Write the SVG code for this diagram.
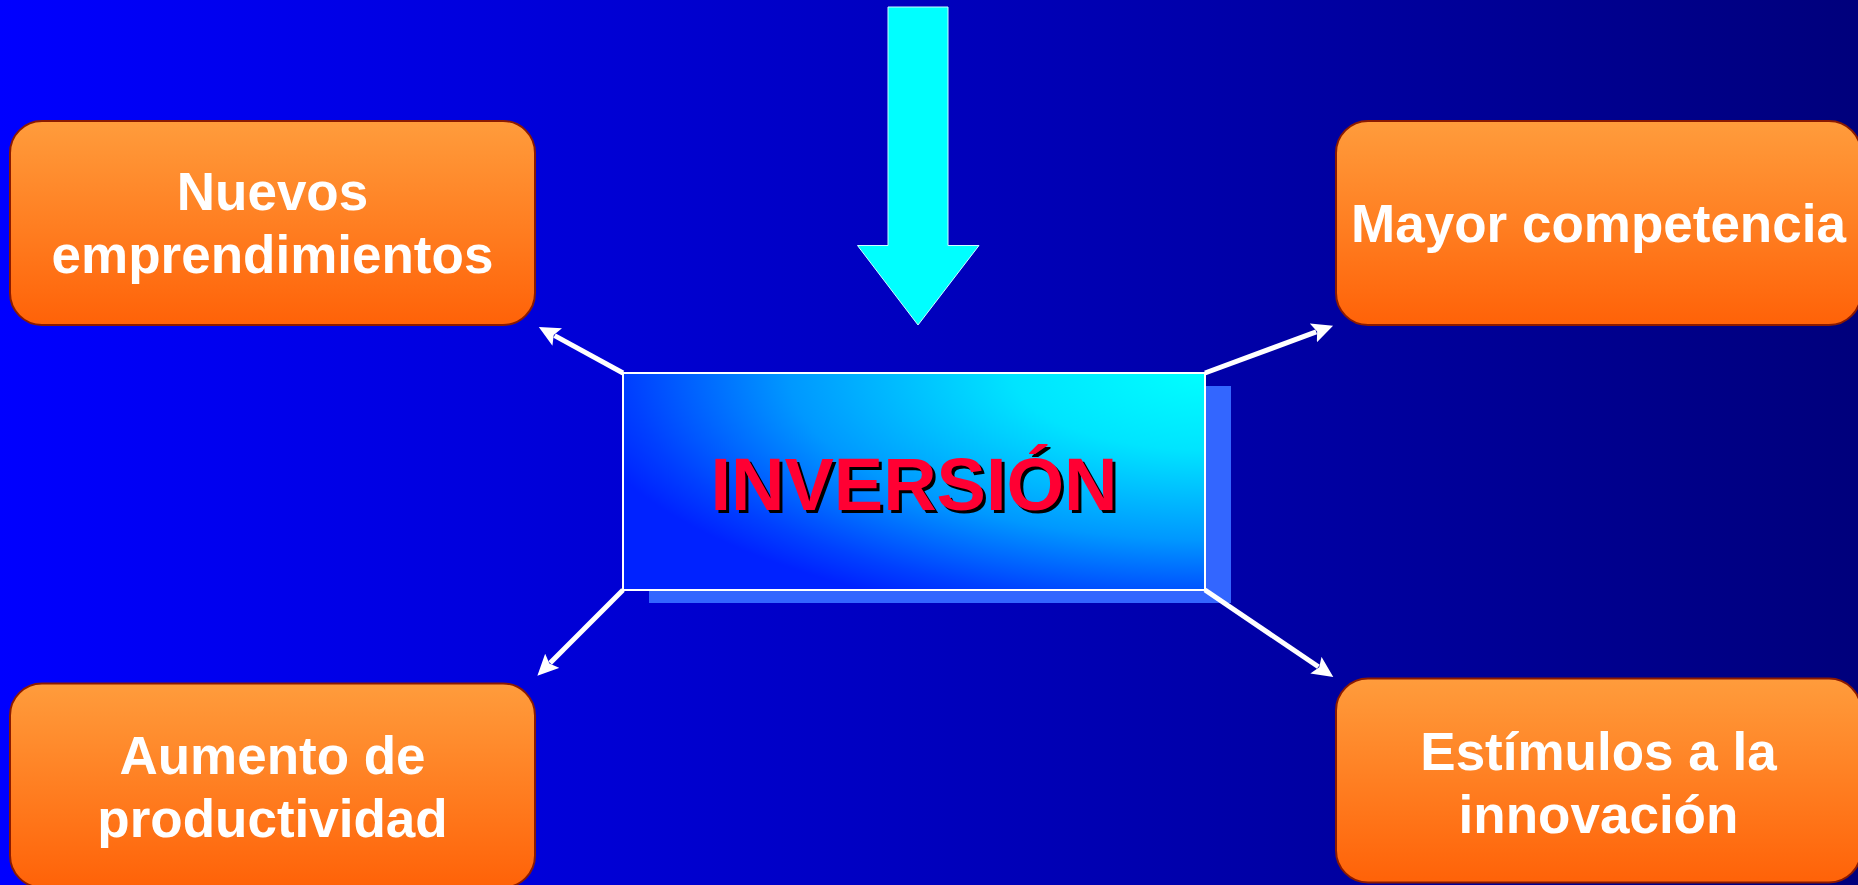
<svg xmlns="http://www.w3.org/2000/svg" width="1858" height="885" viewBox="0 0 1858 885">
<defs>
<linearGradient id="bg" x1="0" y1="0" x2="1" y2="0">
<stop offset="0" stop-color="#0000FF"/>
<stop offset="1" stop-color="#00007C"/>
</linearGradient>
<linearGradient id="orange" x1="0" y1="0" x2="0" y2="1">
<stop offset="0" stop-color="#FF9C3C"/>
<stop offset="1" stop-color="#FF6208"/>
</linearGradient>
<radialGradient id="center" gradientUnits="userSpaceOnUse" cx="1205" cy="373" r="640" gradientTransform="translate(1205 373) scale(1 0.4) translate(-1205 -373)">
<stop offset="0" stop-color="#00FFFF"/>
<stop offset="0.3" stop-color="#00E4FF"/>
<stop offset="0.65" stop-color="#0098FF"/>
<stop offset="0.9" stop-color="#0040FF"/>
<stop offset="1" stop-color="#0022FF"/>
</radialGradient>
<marker id="ah" markerUnits="userSpaceOnUse" markerWidth="22" markerHeight="20" refX="3" refY="10" orient="auto">
<path d="M0,0 L21,10 L0,20 L4,10 z" fill="#FFFFFF"/>
</marker>
<style>
.box{fill:url(#orange);stroke:#8B1A00;stroke-width:2}
.lbl{font-family:"Liberation Sans",Arial,sans-serif;font-weight:bold;font-size:53px;fill:#FFFFFF;text-anchor:middle}
.conn{stroke:#FFFFFF;stroke-width:5;fill:none}
.title{font-family:"Liberation Sans",Arial,sans-serif;font-weight:bold;font-size:74px;text-anchor:middle}
</style>
</defs>
<rect x="0" y="0" width="1858" height="885" fill="url(#bg)"/>

<g id="arrow-down">
<polygon points="888,7 948,7 948,245.5 979,245.5 918,325 857.5,245.5 888,245.5" fill="#00FFFF" stroke="#CCFFFF" stroke-width="1"/>
</g>

<g id="node-nuevos">
<rect class="box" x="10" y="121" width="525" height="204" rx="32" ry="32"/>
<text class="lbl" x="272.5" y="210">Nuevos</text>
<text class="lbl" x="272.5" y="273">emprendimientos</text>
</g>

<g id="node-mayor">
<rect class="box" x="1336" y="121" width="525" height="204" rx="32" ry="32"/>
<text class="lbl" x="1598.5" y="242">Mayor competencia</text>
</g>

<g id="node-aumento">
<rect class="box" x="10" y="683.5" width="525" height="204" rx="32" ry="32"/>
<text class="lbl" x="272.5" y="773.5">Aumento de</text>
<text class="lbl" x="272.5" y="836.5">productividad</text>
</g>

<g id="node-estimulos">
<rect class="box" x="1336" y="678.5" width="525" height="204" rx="32" ry="32"/>
<text class="lbl" x="1598.5" y="769.5">Estímulos a la</text>
<text class="lbl" x="1598.5" y="832.5">innovación</text>
</g>

<g id="node-inversion">
<rect x="649" y="386" width="582" height="217" fill="#3366FF"/>
<rect x="623" y="373" width="582" height="217" fill="url(#center)" stroke="#FFFFFF" stroke-width="2"/>
<text class="title" x="917" y="513" fill="#000000">INVERSIÓN</text>
<text class="title" x="914" y="510" fill="#FF0033">INVERSIÓN</text>
</g>

<g id="connectors">
<line class="conn" x1="623" y1="373" x2="554.6" y2="335.6" marker-end="url(#ah)"/>
<line class="conn" x1="1205" y1="373" x2="1316.2" y2="331.9" marker-end="url(#ah)"/>
<line class="conn" x1="623" y1="590" x2="550.1" y2="662.9" marker-end="url(#ah)"/>
<line class="conn" x1="1205" y1="590" x2="1318.4" y2="666.8" marker-end="url(#ah)"/>
</g>
</svg>
